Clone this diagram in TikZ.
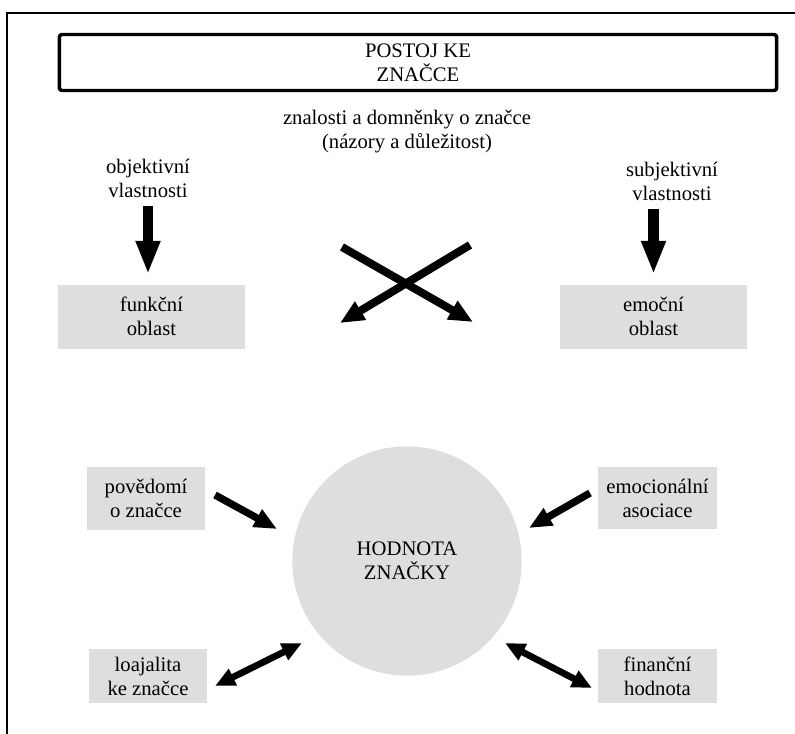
\documentclass[tikz,border=0pt]{standalone}
\usepackage{fontspec}
\setmainfont{Liberation Serif}
\usetikzlibrary{arrows.meta,positioning}

\begin{document}
\begin{tikzpicture}[
  x=0.75pt, y=-0.75pt,
  every node/.style={font=\fontsize{15.5}{18}\selectfont, align=center},
  titlebox/.style={draw, line width=2.6pt, rounded corners=2pt, minimum width=538pt, minimum height=42pt, inner sep=0pt},
  graybox/.style={fill=black!13, minimum height=48pt, inner sep=2pt},
  valcircle/.style={circle, fill=black!13, minimum size=172pt, inner sep=0pt},
  downarrow/.style={-{Triangle[width=17pt,length=25pt]}, line width=8pt},
  crossarrow/.style={-{Triangle[width=15pt,length=18pt]}, line width=6pt},
  inarrow/.style={-{Triangle[width=14pt,length=17pt]}, line width=5.5pt},
  twoarrow/.style={{Triangle[width=13pt,length=15pt]}-{Triangle[width=13pt,length=15pt]}, line width=5pt}
]
\useasboundingbox (0,0) rectangle (795,734);
% frame
\draw[line width=2.2pt] (7,740) -- (7,13) -- (800,13);

\node[titlebox] (title) at (418,62.5) {POSTOJ KE\\ZNAČCE};
\node (know) at (407,132) {znalosti a domněnky o značce\\(názory a důležitost)};

\node (objlbl) at (148,178) {objektivní\\vlastnosti};
\node (subjlbl) at (672,181) {subjektivní\\vlastnosti};
\node[graybox, minimum width=140pt] (funk) at (151.5,316.5) {funkční\\oblast};
\node[graybox, minimum width=140pt] (emoc) at (653.5,316.5) {emoční\\oblast};

\node[valcircle] (hv) at (407,561) {HODNOTA\\ZNAČKY};
\node[graybox, minimum width=88pt, minimum height=47pt] (pov) at (146,498.5) {povědomí\\o značce};
\node[graybox, minimum width=89pt, minimum height=47pt] (emoas) at (657.5,498) {emocionální\\asociace};
\node[graybox, minimum width=88pt, minimum height=40pt] (loaj) at (148,676) {loajalita\\ke značce};
\node[graybox, minimum width=89pt, minimum height=40pt] (fin) at (657.5,676) {finanční\\hodnota};

% cross
\coordinate (xa) at (342,247);
\coordinate (xb) at (473,322);
\coordinate (xc) at (470,245);
\coordinate (xd) at (340,323);

% ends near the circle
\coordinate (povend) at (277,529);
\coordinate (emoend) at (529,528);
\coordinate (loajend) at (302,643);
\coordinate (finend) at (505,643);

\draw[downarrow, shorten <=3pt, shorten >=7.5pt] (objlbl.south) -- (objlbl.south |- funk.north);
\draw[downarrow, shorten <=3pt, shorten >=7.5pt] (emoc.north |- subjlbl.south) -- (emoc.north);
\draw[crossarrow] (xa) -- (xb);
\draw[crossarrow] (xc) -- (xd);
\draw[inarrow] (215,495) -- (povend);
\draw[inarrow] (590,493) -- (emoend);
\draw[twoarrow] (loajend) -- (215,686);
\draw[twoarrow] (finend) -- (592,688);
\end{tikzpicture}
\end{document}
